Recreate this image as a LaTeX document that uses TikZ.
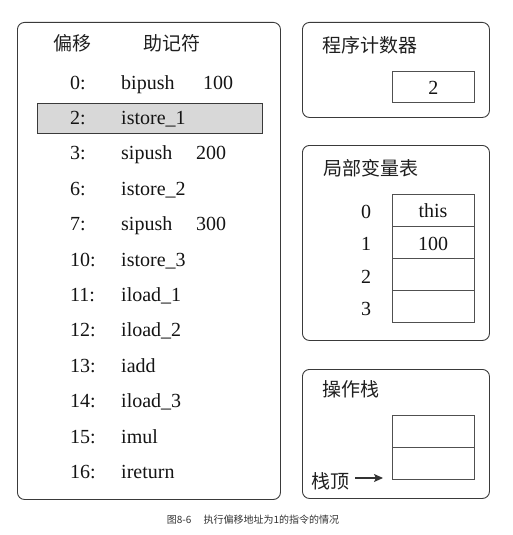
\documentclass[tikz,border=0pt]{standalone}
\usepackage{fontspec}
\setmainfont{Liberation Serif}
\newfontfamily\latin{Liberation Serif}
\newfontfamily\cjk{Noto Sans CJK SC}
\usetikzlibrary{arrows.meta}
\definecolor{frame}{HTML}{3A3A3A}
\definecolor{cellline}{HTML}{505050}
\definecolor{hilite}{HTML}{D8D8D8}
\tikzset{
  panel/.style={draw=frame, line width=0.9pt, rounded corners=7pt, anchor=north west,
    inner sep=0pt, minimum width=#1},
  cell/.style={draw=cellline, line width=0.8pt, anchor=north west, inner sep=0pt,
    minimum width=82pt, minimum height=32pt},
  txt/.style={font=\latin\fontsize{20}{24}\selectfont, inner sep=0pt, text=black!92},
  ctxt/.style={font=\cjk\fontsize{19}{23}\selectfont, inner sep=0pt, text=black!88},
}
\begin{document}
\begin{tikzpicture}[x=1pt, y=-1pt]
\useasboundingbox (0,0) rectangle (512,535);

% instruction listing panel
\node[panel=263pt, minimum height=477pt] (code) at (17,22) {};
\node[draw=frame, fill=hilite, line width=0.8pt, anchor=north west, inner sep=0pt,
  minimum width=225pt, minimum height=30pt] (hl) at (37,103) {};
\node[ctxt, anchor=west] (hoff) at (53,43) {偏移};
\node[ctxt, anchor=west] (hmn) at (143,43) {助记符};

\foreach \i/\off/\mn/\arg/\ax in {
  0/0:/bipush/100/203, 1/2:/istore\_1//0, 2/3:/sipush/200/196,
  3/6:/istore\_2//0, 4/7:/sipush/300/196, 5/10:/istore\_3//0,
  6/11:/iload\_1//0, 7/12:/iload\_2//0, 8/13:/iadd//0,
  9/14:/iload\_3//0, 10/15:/imul//0, 11/16:/ireturn//0} {
  \node[txt, anchor=base west] (off\i) at (70,89+35.4*\i) {\off};
  \node[txt, anchor=base west] (mn\i) at (121,89+35.4*\i) {\mn};
  \ifx\arg\empty\else
    \node[txt, anchor=base west] (arg\i) at (\ax,89+35.4*\i) {\arg};
  \fi
}

% program counter
\node[panel=187pt, minimum height=95pt] (pc) at (302,22) {};
\node[ctxt, anchor=west] (pct) at (322,45) {程序计数器};
\node[cell, minimum height=31pt] (pcv) at (392,71) {};
\node[txt, anchor=base] (pcn) at (pcv.center |- 0,94) {2};

% local variable table
\node[panel=187pt, minimum height=195pt] (lv) at (302,145) {};
\node[ctxt, anchor=west] (lvt) at (323,168) {局部变量表};
\node[cell] (lv0) at (392,194) {};
\node[cell] (lv1) at (392,226) {};
\node[cell] (lv2) at (392,258) {};
\node[cell] (lv3) at (392,290) {};
\node[txt, anchor=base] (lvv0) at (433,217) {this};
\node[txt, anchor=base] (lvv1) at (433,250) {100};
\foreach \i/\b in {0/218, 1/250, 2/283, 3/315}
  \node[txt, anchor=base] (lvi\i) at (366,\b) {\i};

% operand stack
\node[panel=187pt, minimum height=129pt] (os) at (302,369) {};
\node[ctxt, anchor=west] (ost) at (322,389) {操作栈};
\node[cell] (os0) at (392,415) {};
\node[cell] (os1) at (392,447) {};
\node[ctxt, anchor=west] (top) at (311,481) {栈顶};
\draw[-{Stealth[length=9pt,width=8pt,inset=2pt]}, line width=1.1pt, black!80]
  ([xshift=6pt]top.east |- 0,478) -- ([xshift=-9pt]os1.west |- 0,478);

% caption
\node[font=\cjk\fontsize{10}{12}\selectfont, text=black!80] (cap) at (253,520)
  {图8-6\hspace{1.2em}执行偏移地址为1的指令的情况};
\end{tikzpicture}
\end{document}
